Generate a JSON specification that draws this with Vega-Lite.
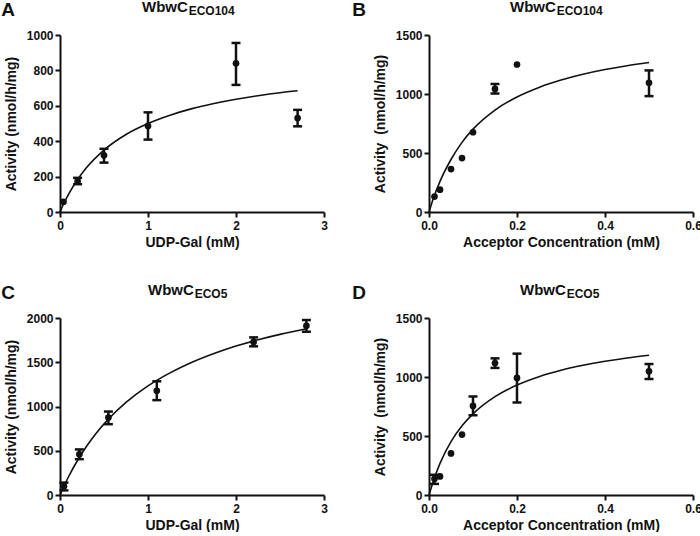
{
  "$schema": "https://vega.github.io/schema/vega-lite/v6.json",
  "background": "white",
  "padding": {"left": 1, "top": 0, "right": 0, "bottom": 0},
  "config": {
    "font": "Liberation Sans",
    "view": {"stroke": null},
    "title": {"font": "Liberation Sans", "fontWeight": "bold", "color": "#111111", "subtitleColor": "#111111", "subtitleFont": "Liberation Sans"},
    "axis": {"domainColor": "#111111", "domainWidth": 2, "tickColor": "#111111", "tickWidth": 2, "tickSize": 5, "labelFont": "Liberation Sans", "labelFontSize": 12, "labelFontWeight": "bold", "labelColor": "#111111", "titleFont": "Liberation Sans", "titleFontSize": 14, "titleFontWeight": "bold", "titleColor": "#111111", "grid": false, "labelFlush": false, "labelOverlap": false},
    "axisX": {"labelPadding": 3, "titlePadding": 4},
    "axisY": {"labelPadding": 2, "titlePadding": 8}
  },
  "datasets": {
    "A_curve": [
      {"x": 0, "y": 0}, {"x": 0.05, "y": 55}, {"x": 0.1, "y": 103}, {"x": 0.2, "y": 184}, {"x": 0.3, "y": 250}, {"x": 0.5, "y": 350}, {"x": 0.75, "y": 438}, {"x": 1, "y": 500}, {"x": 1.25, "y": 547}, {"x": 1.5, "y": 584}, {"x": 1.75, "y": 613}, {"x": 2, "y": 637}, {"x": 2.25, "y": 657}, {"x": 2.5, "y": 674}, {"x": 2.7, "y": 685}
    ],
    "A_pts": [
      {"x": 0.04, "y": 58, "lo": null, "hi": null},
      {"x": 0.2, "y": 175, "lo": 157, "hi": 193},
      {"x": 0.5, "y": 320, "lo": 279, "hi": 357},
      {"x": 1, "y": 486, "lo": 409, "hi": 563},
      {"x": 2, "y": 840, "lo": 718, "hi": 955},
      {"x": 2.7, "y": 531, "lo": 484, "hi": 577}
    ],
    "B_curve": [
      {"x": 0, "y": 0}, {"x": 0.01, "y": 117}, {"x": 0.025, "y": 260}, {"x": 0.05, "y": 445}, {"x": 0.075, "y": 590}, {"x": 0.1, "y": 702}, {"x": 0.15, "y": 864}, {"x": 0.2, "y": 975}, {"x": 0.25, "y": 1056}, {"x": 0.3, "y": 1118}, {"x": 0.35, "y": 1167}, {"x": 0.4, "y": 1207}, {"x": 0.45, "y": 1240}, {"x": 0.5, "y": 1267}
    ],
    "B_pts": [
      {"x": 0.0125, "y": 131, "lo": null, "hi": null},
      {"x": 0.025, "y": 189, "lo": null, "hi": null},
      {"x": 0.05, "y": 364, "lo": null, "hi": null},
      {"x": 0.075, "y": 457, "lo": null, "hi": null},
      {"x": 0.1, "y": 676, "lo": null, "hi": null},
      {"x": 0.15, "y": 1043, "lo": 1004, "hi": 1085},
      {"x": 0.2, "y": 1250, "lo": null, "hi": null},
      {"x": 0.5, "y": 1095, "lo": 982, "hi": 1200}
    ],
    "C_curve": [
      {"x": 0, "y": 0}, {"x": 0.05, "y": 110}, {"x": 0.1, "y": 212}, {"x": 0.2, "y": 393}, {"x": 0.3, "y": 548}, {"x": 0.4, "y": 684}, {"x": 0.55, "y": 857}, {"x": 0.75, "y": 1046}, {"x": 1, "y": 1233}, {"x": 1.25, "y": 1380}, {"x": 1.5, "y": 1500}, {"x": 1.75, "y": 1599}, {"x": 2, "y": 1683}, {"x": 2.25, "y": 1754}, {"x": 2.5, "y": 1815}, {"x": 2.8, "y": 1878}
    ],
    "C_pts": [
      {"x": 0.045, "y": 99, "lo": 52, "hi": 140},
      {"x": 0.22, "y": 460, "lo": 405, "hi": 515},
      {"x": 0.55, "y": 875, "lo": 800, "hi": 943},
      {"x": 1.1, "y": 1178, "lo": 1072, "hi": 1285},
      {"x": 2.2, "y": 1730, "lo": 1680, "hi": 1781},
      {"x": 2.8, "y": 1912, "lo": 1845, "hi": 1977}
    ],
    "D_curve": [
      {"x": 0, "y": 0}, {"x": 0.0125, "y": 147}, {"x": 0.025, "y": 268}, {"x": 0.05, "y": 452}, {"x": 0.075, "y": 586}, {"x": 0.1, "y": 688}, {"x": 0.15, "y": 834}, {"x": 0.2, "y": 932}, {"x": 0.25, "y": 1003}, {"x": 0.3, "y": 1057}, {"x": 0.35, "y": 1099}, {"x": 0.4, "y": 1133}, {"x": 0.45, "y": 1161}, {"x": 0.5, "y": 1184}
    ],
    "D_pts": [
      {"x": 0.0125, "y": 137, "lo": 94, "hi": 171},
      {"x": 0.025, "y": 157, "lo": null, "hi": null},
      {"x": 0.05, "y": 352, "lo": null, "hi": null},
      {"x": 0.075, "y": 512, "lo": null, "hi": null},
      {"x": 0.1, "y": 755, "lo": 676, "hi": 835},
      {"x": 0.15, "y": 1118, "lo": 1077, "hi": 1158},
      {"x": 0.2, "y": 992, "lo": 784, "hi": 1198},
      {"x": 0.5, "y": 1048, "lo": 983, "hi": 1110}
    ]
  },
  "spacing": 34,
  "vconcat": [
    {
      "spacing": 24,
      "hconcat": [
        {
          "title": {"text": "A", "anchor": "start", "frame": "bounds", "fontSize": 19, "offset": -20, "dx": -3},
          "vconcat": [
            {
              "width": 264, "height": 177,
              "title": {"text": "WbwC", "subtitle": "\u200b\u00a0\u00a0\u00a0\u00a0\u00a0\u00a0\u00a0\u00a0\u00a0\u00a0\u00a0\u00a0\u00a0\u00a0ECO104", "anchor": "start", "frame": "group", "dx": 82, "fontSize": 15, "subtitleFontSize": 12, "subtitleFontWeight": "bold", "subtitlePadding": -9, "offset": 12},
              "layer": [
                {"data": {"name": "A_curve"}, "mark": {"type": "line", "color": "#111111", "strokeWidth": 1.6, "interpolate": "monotone"},
                 "encoding": {
                   "x": {"field": "x", "type": "quantitative", "scale": {"domain": [0, 3], "nice": false}, "axis": {"values": [0, 1, 2, 3], "format": "d", "title": "UDP-Gal (mM)"}},
                   "y": {"field": "y", "type": "quantitative", "scale": {"domain": [0, 1000], "nice": false}, "axis": {"values": [0, 200, 400, 600, 800, 1000], "format": "d", "title": "Activity (nmol/h/mg)"}}}},
                {"data": {"name": "A_pts"}, "transform": [{"filter": "isValid(datum.lo)"}],
                 "mark": {"type": "errorbar", "ticks": {"size": 9, "thickness": 2.5, "color": "#111111", "opacity": 1}, "rule": {"color": "#111111", "opacity": 1}, "thickness": 2.5, "color": "#111111", "opacity": 1},
                 "encoding": {
                   "x": {"field": "x", "type": "quantitative", "axis": {"values": [0, 1, 2, 3], "format": "d", "title": "UDP-Gal (mM)"}},
                   "y": {"field": "hi", "type": "quantitative", "axis": {"values": [0, 200, 400, 600, 800, 1000], "format": "d", "title": "Activity (nmol/h/mg)"}},
                   "y2": {"field": "lo"}}},
                {"data": {"name": "A_pts"}, "mark": {"type": "circle", "size": 45, "color": "#111111", "opacity": 1},
                 "encoding": {
                   "x": {"field": "x", "type": "quantitative", "axis": {"values": [0, 1, 2, 3], "format": "d", "title": "UDP-Gal (mM)"}},
                   "y": {"field": "y", "type": "quantitative", "axis": {"values": [0, 200, 400, 600, 800, 1000], "format": "d", "title": "Activity (nmol/h/mg)"}}}}
              ]
            }
          ]
        },
        {
          "title": {"text": "B", "anchor": "start", "frame": "bounds", "fontSize": 19, "offset": -20, "dx": -21},
          "vconcat": [
            {
              "width": 264, "height": 177,
              "title": {"text": "WbwC", "subtitle": "\u200b\u00a0\u00a0\u00a0\u00a0\u00a0\u00a0\u00a0\u00a0\u00a0\u00a0\u00a0\u00a0\u00a0\u00a0ECO104", "anchor": "start", "frame": "group", "dx": 81, "fontSize": 15, "subtitleFontSize": 12, "subtitleFontWeight": "bold", "subtitlePadding": -9, "offset": 12},
              "layer": [
                {"data": {"name": "B_curve"}, "mark": {"type": "line", "color": "#111111", "strokeWidth": 1.6, "interpolate": "monotone"},
                 "encoding": {
                   "x": {"field": "x", "type": "quantitative", "scale": {"domain": [0, 0.6], "nice": false}, "axis": {"values": [0, 0.2, 0.4, 0.6], "format": ".1f", "title": "Acceptor Concentration (mM)"}},
                   "y": {"field": "y", "type": "quantitative", "scale": {"domain": [0, 1500], "nice": false}, "axis": {"values": [0, 500, 1000, 1500], "format": "d", "title": "Activity\u00a0\u00a0(nmol/h/mg)"}}}},
                {"data": {"name": "B_pts"}, "transform": [{"filter": "isValid(datum.lo)"}],
                 "mark": {"type": "errorbar", "ticks": {"size": 9, "thickness": 2.5, "color": "#111111", "opacity": 1}, "rule": {"color": "#111111", "opacity": 1}, "thickness": 2.5, "color": "#111111", "opacity": 1},
                 "encoding": {
                   "x": {"field": "x", "type": "quantitative", "axis": {"values": [0, 0.2, 0.4, 0.6], "format": ".1f", "title": "Acceptor Concentration (mM)"}},
                   "y": {"field": "hi", "type": "quantitative", "axis": {"values": [0, 500, 1000, 1500], "format": "d", "title": "Activity\u00a0\u00a0(nmol/h/mg)"}},
                   "y2": {"field": "lo"}}},
                {"data": {"name": "B_pts"}, "mark": {"type": "circle", "size": 45, "color": "#111111", "opacity": 1},
                 "encoding": {
                   "x": {"field": "x", "type": "quantitative", "axis": {"values": [0, 0.2, 0.4, 0.6], "format": ".1f", "title": "Acceptor Concentration (mM)"}},
                   "y": {"field": "y", "type": "quantitative", "axis": {"values": [0, 500, 1000, 1500], "format": "d", "title": "Activity\u00a0\u00a0(nmol/h/mg)"}}}}
              ]
            }
          ]
        }
      ]
    },
    {
      "spacing": 24,
      "hconcat": [
        {
          "title": {"text": "C", "anchor": "start", "frame": "bounds", "fontSize": 19, "offset": -20, "dx": -3},
          "vconcat": [
            {
              "width": 264, "height": 177,
              "title": {"text": "WbwC", "subtitle": "\u200b\u00a0\u00a0\u00a0\u00a0\u00a0\u00a0\u00a0\u00a0\u00a0\u00a0\u00a0\u00a0\u00a0\u00a0ECO5", "anchor": "start", "frame": "group", "dx": 88, "fontSize": 15, "subtitleFontSize": 12, "subtitleFontWeight": "bold", "subtitlePadding": -9, "offset": 12},
              "layer": [
                {"data": {"name": "C_curve"}, "mark": {"type": "line", "color": "#111111", "strokeWidth": 1.6, "interpolate": "monotone"},
                 "encoding": {
                   "x": {"field": "x", "type": "quantitative", "scale": {"domain": [0, 3], "nice": false}, "axis": {"values": [0, 1, 2, 3], "format": "d", "title": "UDP-Gal (mM)"}},
                   "y": {"field": "y", "type": "quantitative", "scale": {"domain": [0, 2000], "nice": false}, "axis": {"values": [0, 500, 1000, 1500, 2000], "format": "d", "title": "Activity (nmol/h/mg)"}}}},
                {"data": {"name": "C_pts"}, "transform": [{"filter": "isValid(datum.lo)"}],
                 "mark": {"type": "errorbar", "ticks": {"size": 9, "thickness": 2.5, "color": "#111111", "opacity": 1}, "rule": {"color": "#111111", "opacity": 1}, "thickness": 2.5, "color": "#111111", "opacity": 1},
                 "encoding": {
                   "x": {"field": "x", "type": "quantitative", "axis": {"values": [0, 1, 2, 3], "format": "d", "title": "UDP-Gal (mM)"}},
                   "y": {"field": "hi", "type": "quantitative", "axis": {"values": [0, 500, 1000, 1500, 2000], "format": "d", "title": "Activity (nmol/h/mg)"}},
                   "y2": {"field": "lo"}}},
                {"data": {"name": "C_pts"}, "mark": {"type": "circle", "size": 45, "color": "#111111", "opacity": 1},
                 "encoding": {
                   "x": {"field": "x", "type": "quantitative", "axis": {"values": [0, 1, 2, 3], "format": "d", "title": "UDP-Gal (mM)"}},
                   "y": {"field": "y", "type": "quantitative", "axis": {"values": [0, 500, 1000, 1500, 2000], "format": "d", "title": "Activity (nmol/h/mg)"}}}}
              ]
            }
          ]
        },
        {
          "title": {"text": "D", "anchor": "start", "frame": "bounds", "fontSize": 19, "offset": -20, "dx": -21},
          "vconcat": [
            {
              "width": 264, "height": 177,
              "title": {"text": "WbwC", "subtitle": "\u200b\u00a0\u00a0\u00a0\u00a0\u00a0\u00a0\u00a0\u00a0\u00a0\u00a0\u00a0\u00a0\u00a0\u00a0ECO5", "anchor": "start", "frame": "group", "dx": 91, "fontSize": 15, "subtitleFontSize": 12, "subtitleFontWeight": "bold", "subtitlePadding": -9, "offset": 12},
              "layer": [
                {"data": {"name": "D_curve"}, "mark": {"type": "line", "color": "#111111", "strokeWidth": 1.6, "interpolate": "monotone"},
                 "encoding": {
                   "x": {"field": "x", "type": "quantitative", "scale": {"domain": [0, 0.6], "nice": false}, "axis": {"values": [0, 0.2, 0.4, 0.6], "format": ".1f", "title": "Acceptor Concentration (mM)"}},
                   "y": {"field": "y", "type": "quantitative", "scale": {"domain": [0, 1500], "nice": false}, "axis": {"values": [0, 500, 1000, 1500], "format": "d", "title": "Activity\u00a0\u00a0(nmol/h/mg)"}}}},
                {"data": {"name": "D_pts"}, "transform": [{"filter": "isValid(datum.lo)"}],
                 "mark": {"type": "errorbar", "ticks": {"size": 9, "thickness": 2.5, "color": "#111111", "opacity": 1}, "rule": {"color": "#111111", "opacity": 1}, "thickness": 2.5, "color": "#111111", "opacity": 1},
                 "encoding": {
                   "x": {"field": "x", "type": "quantitative", "axis": {"values": [0, 0.2, 0.4, 0.6], "format": ".1f", "title": "Acceptor Concentration (mM)"}},
                   "y": {"field": "hi", "type": "quantitative", "axis": {"values": [0, 500, 1000, 1500], "format": "d", "title": "Activity\u00a0\u00a0(nmol/h/mg)"}},
                   "y2": {"field": "lo"}}},
                {"data": {"name": "D_pts"}, "mark": {"type": "circle", "size": 45, "color": "#111111", "opacity": 1},
                 "encoding": {
                   "x": {"field": "x", "type": "quantitative", "axis": {"values": [0, 0.2, 0.4, 0.6], "format": ".1f", "title": "Acceptor Concentration (mM)"}},
                   "y": {"field": "y", "type": "quantitative", "axis": {"values": [0, 500, 1000, 1500], "format": "d", "title": "Activity\u00a0\u00a0(nmol/h/mg)"}}}}
              ]
            }
          ]
        }
      ]
    }
  ]
}
